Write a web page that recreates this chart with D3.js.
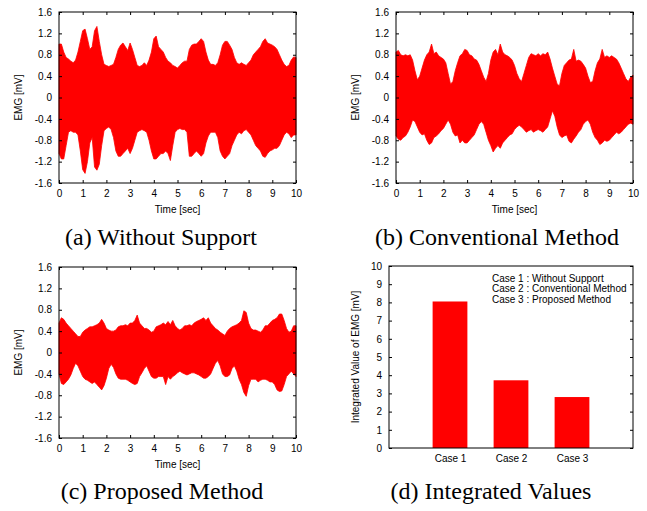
<!DOCTYPE html>
<html>
<head>
<meta charset="utf-8">
<script src="https://cdn.jsdelivr.net/npm/d3@7"></script>
<style>
  body { margin: 0; background: #fff; }
  svg { display: block; }
  .tick text { font-family: "Liberation Sans", Arial, Helvetica, sans-serif; font-size: 10px; fill: #000; }
  .tick line { stroke: #000; }
  .label { font-family: "Liberation Sans", Arial, Helvetica, sans-serif; font-size: 10px; fill: #000; }
  .caption { font-family: "Liberation Serif", "Times New Roman", serif; font-size: 24px; fill: #000; }
</style>
</head>
<body>
<script>
const timeTicks = [0, 1, 2, 3, 4, 5, 6, 7, 8, 9, 10];
const emgTicks = [-1.6, -1.2, -0.8, -0.4, 0, 0.4, 0.8, 1.2, 1.6];

// sampling grid used when reading the envelopes off the figure
const sampleTimes = [
  0, 0.1, 0.2, 0.3, 0.4, 0.5, 0.6, 0.7, 0.8, 0.9,
  1, 1.1, 1.2, 1.3, 1.4, 1.5, 1.6, 1.7, 1.8, 1.9,
  2, 2.1, 2.2, 2.3, 2.4, 2.5, 2.6, 2.7, 2.8, 2.9,
  3, 3.1, 3.2, 3.3, 3.4, 3.5, 3.6, 3.7, 3.8, 3.9,
  4, 4.1, 4.2, 4.3, 4.4, 4.5, 4.6, 4.7, 4.8, 4.9,
  5, 5.1, 5.2, 5.3, 5.4, 5.5, 5.6, 5.7, 5.8, 5.9,
  6, 6.1, 6.2, 6.3, 6.4, 6.5, 6.6, 6.7, 6.8, 6.9,
  7, 7.1, 7.2, 7.3, 7.4, 7.5, 7.6, 7.7, 7.8, 7.9,
  8, 8.1, 8.2, 8.3, 8.4, 8.5, 8.6, 8.7, 8.8, 8.9,
  9, 9.1, 9.2, 9.3, 9.4, 9.5, 9.6, 9.7, 9.8, 9.9,
  10
];

// (a) without support: upper / lower envelope [mV]
const upperA = [
  1.0, 1.0, 0.85, 0.75, 0.72, 0.68, 0.65, 0.7, 0.85, 1.05,
  1.25, 1.28, 1.1, 0.9, 0.95, 1.25, 1.33, 1.05, 0.8, 0.62,
  0.6, 0.58, 0.6, 0.62, 0.75, 0.9, 0.98, 1.02, 0.95, 0.88,
  1.02, 0.9, 0.75, 0.6, 0.58, 0.6, 0.65, 0.6, 0.7, 0.85,
  1.1, 1.15, 0.95, 0.9, 0.85, 0.75, 0.68, 0.65, 0.6, 0.58,
  0.55, 0.6, 0.65, 0.68, 0.68, 0.9, 0.98, 1.0, 1.0, 1.05,
  1.1, 1.05, 0.85, 0.7, 0.62, 0.62, 0.6, 0.65, 0.8, 0.98,
  1.05, 1.05, 0.98, 0.9, 0.75, 0.65, 0.62, 0.65, 0.62, 0.6,
  0.65, 0.7, 0.8, 0.85, 0.9, 0.95, 1.05, 1.1, 1.02, 1.0,
  0.98, 0.95, 0.9, 0.8, 0.7, 0.62, 0.58, 0.6, 0.7, 0.76,
  0.75
];
const lowerA = [
  -1.05, -1.15, -1.15, -0.9, -0.65, -0.62, -0.65, -0.65, -0.7, -1.0,
  -1.35, -1.42, -1.2, -0.85, -0.75, -1.3, -1.36, -1.25, -0.9, -0.62,
  -0.58, -0.55, -0.6, -0.75, -1.0, -1.1, -1.1, -1.05, -1.0, -0.95,
  -1.05, -0.95, -0.8, -0.65, -0.62, -0.6, -0.62, -0.65, -0.8, -1.0,
  -1.15, -1.15, -1.1, -1.05, -1.05, -1.0, -1.05, -1.18, -0.9, -0.65,
  -0.6, -0.58, -0.6, -0.6, -0.65, -1.1, -1.1, -1.05, -1.0, -1.05,
  -1.1, -1.05, -0.85, -0.72, -0.65, -0.65, -0.65, -0.75, -1.0, -1.1,
  -1.15, -1.1, -1.05, -0.9, -0.8, -0.7, -0.65, -0.68, -0.62, -0.6,
  -0.65, -0.7, -0.8, -0.9, -0.95, -1.0, -1.1, -1.12, -1.05, -1.0,
  -0.98, -0.95, -0.95, -0.9, -0.8, -0.7, -0.65, -0.68, -0.75, -0.7,
  -0.7
];

// (b) conventional method
const upperB = [
  0.85, 0.88, 0.8, 0.78, 0.8, 0.78, 0.8, 0.7, 0.5, 0.33,
  0.4, 0.55, 0.7, 0.8, 0.85, 1.0, 0.82, 0.85, 0.78, 0.75,
  0.72, 0.65, 0.45, 0.25, 0.3, 0.5, 0.65, 0.78, 0.82, 0.9,
  0.88, 0.8, 0.78, 0.72, 0.7, 0.62, 0.5, 0.38, 0.3, 0.45,
  0.7, 0.85, 0.9, 0.8, 1.0, 0.85, 0.8, 0.78, 0.75, 0.7,
  0.6, 0.45, 0.35, 0.3, 0.45, 0.6, 0.75, 0.82, 0.8, 0.78,
  0.82, 0.78, 0.82, 0.8, 0.85, 0.72, 0.55, 0.4, 0.25, 0.22,
  0.45, 0.6, 0.65, 0.7, 0.72, 0.9, 0.68, 0.7, 0.68, 0.62,
  0.55, 0.4, 0.28, 0.3, 0.5, 0.65, 0.72, 0.9, 0.75, 0.78,
  0.75, 0.78, 0.75, 0.72, 0.65, 0.55, 0.45, 0.35, 0.3, 0.38,
  0.42
];
const lowerB = [
  -0.72, -0.78, -0.8, -0.75, -0.72, -0.65, -0.55, -0.42, -0.45, -0.55,
  -0.65, -0.7, -0.68, -0.8, -0.88, -0.85, -0.75, -0.72, -0.68, -0.62,
  -0.58, -0.5, -0.42, -0.5, -0.65, -0.72, -0.7, -0.85, -0.8, -0.85,
  -0.85, -0.8, -0.75, -0.7, -0.6, -0.5, -0.45, -0.5, -0.65, -0.8,
  -0.9, -1.02, -0.95, -0.9, -0.95, -0.85, -0.8, -0.75, -0.7, -0.68,
  -0.6, -0.55, -0.52, -0.55, -0.6, -0.65, -0.62, -0.6, -0.65, -0.62,
  -0.6, -0.62, -0.65, -0.6, -0.55, -0.4, -0.25, -0.35, -0.55, -0.7,
  -0.75, -0.72, -0.7, -0.82, -0.85, -0.78, -0.72, -0.65, -0.6, -0.5,
  -0.45, -0.42, -0.5, -0.65, -0.75, -0.8, -0.88, -0.85, -0.8, -0.82,
  -0.8, -0.75, -0.7, -0.65, -0.68, -0.65, -0.6, -0.55, -0.5, -0.48,
  -0.5
];

// (c) proposed method
const upperC = [
  0.55, 0.65, 0.62, 0.55, 0.5, 0.45, 0.4, 0.35, 0.3, 0.3,
  0.38, 0.42, 0.45, 0.48, 0.48, 0.5, 0.52, 0.55, 0.62, 0.55,
  0.45, 0.42, 0.4, 0.4, 0.42, 0.48, 0.5, 0.5, 0.52, 0.5,
  0.55, 0.55, 0.6, 0.7, 0.55, 0.5, 0.45, 0.45, 0.42, 0.38,
  0.4, 0.48, 0.5, 0.52, 0.55, 0.52, 0.58, 0.52, 0.6, 0.5,
  0.45, 0.42, 0.45, 0.5, 0.5, 0.52, 0.5, 0.55, 0.58, 0.6,
  0.62, 0.65, 0.6, 0.65, 0.55, 0.5, 0.45, 0.42, 0.38, 0.35,
  0.32, 0.4, 0.45, 0.48, 0.5, 0.52, 0.55, 0.6, 0.78, 0.75,
  0.55, 0.45, 0.42, 0.42, 0.4, 0.38, 0.42, 0.5, 0.5, 0.55,
  0.6, 0.62, 0.65, 0.72, 0.72, 0.6, 0.45, 0.38, 0.4, 0.5,
  0.5
];
const lowerC = [
  -0.4, -0.58, -0.6, -0.55, -0.5, -0.42, -0.3, -0.2, -0.25, -0.35,
  -0.45, -0.5, -0.52, -0.55, -0.58, -0.55, -0.6, -0.65, -0.7, -0.62,
  -0.48, -0.3, -0.22, -0.28, -0.4, -0.48, -0.5, -0.5, -0.5, -0.52,
  -0.55, -0.58, -0.6, -0.58, -0.45, -0.38, -0.3, -0.25, -0.35, -0.45,
  -0.48, -0.48, -0.45, -0.45, -0.45, -0.6, -0.45, -0.5, -0.45, -0.42,
  -0.38, -0.35, -0.38, -0.4, -0.42, -0.4, -0.38, -0.38, -0.4, -0.42,
  -0.45, -0.48, -0.48, -0.45, -0.4, -0.3, -0.2, -0.15, -0.25, -0.4,
  -0.45, -0.45, -0.42, -0.3, -0.25, -0.35, -0.5, -0.6, -0.75, -0.82,
  -0.62, -0.5, -0.5, -0.5, -0.55, -0.52, -0.5, -0.5, -0.52, -0.55,
  -0.55, -0.6, -0.7, -0.73, -0.72, -0.6, -0.45, -0.4, -0.35, -0.4,
  -0.45
];

// (d) integrated values
const cases = ["Case 1", "Case 2", "Case 3"];
const integratedValues = [8.05, 3.72, 2.8];
const integratedTicks = [0, 1, 2, 3, 4, 5, 6, 7, 8, 9, 10];
const caseNotes = ["Case 1 : Without Support", "Case 2 : Conventional Method", "Case 3 : Proposed Method"];

const captions = ["(a) Without Support", "(b) Conventional Method", "(c) Proposed Method", "(d) Integrated Values"];

const width = 647, height = 511;
const red = "#ff0000";

var svg = d3.select("body").append("svg")
  .attr("width", width)
  .attr("height", height);

var numFmt = (d) => String(d);

function frame(g, x0, y0, x1, y1) {
  g.append("rect")
    .attr("x", x0).attr("y", y0)
    .attr("width", x1 - x0).attr("height", y1 - y0)
    .attr("fill", "none")
    .attr("stroke", "#000")
    .attr("stroke-width", 1);
}

function signalPanel(box, upper, lower, caption) {
  var g = svg.append("g");
  var x = d3.scaleLinear().domain([0, 10]).range([box.left, box.right]);
  var y = d3.scaleLinear().domain([-1.6, 1.6]).range([box.bottom, box.top]);

  var area = d3.area()
    .x((d, i) => x(sampleTimes[i]))
    .y0((d, i) => y(lower[i]))
    .y1((d, i) => y(upper[i]));

  g.append("path")
    .datum(upper)
    .attr("d", area)
    .attr("fill", red)
    .attr("stroke", red)
    .attr("stroke-width", 0.8);

  g.append("g")
    .attr("transform", `translate(0,${box.bottom})`)
    .call(d3.axisBottom(x).tickValues(timeTicks).tickFormat(numFmt)
      .tickSizeInner(-3).tickSizeOuter(0).tickPadding(7))
    .call((s) => s.select(".domain").remove());
  g.append("g")
    .attr("transform", `translate(0,${box.top})`)
    .call(d3.axisTop(x).tickValues(timeTicks).tickFormat("")
      .tickSizeInner(-3).tickSizeOuter(0))
    .call((s) => s.select(".domain").remove());
  g.append("g")
    .attr("transform", `translate(${box.left},0)`)
    .call(d3.axisLeft(y).tickValues(emgTicks).tickFormat(numFmt)
      .tickSizeInner(-3).tickSizeOuter(0).tickPadding(7))
    .call((s) => s.select(".domain").remove());
  g.append("g")
    .attr("transform", `translate(${box.right},0)`)
    .call(d3.axisRight(y).tickValues(emgTicks).tickFormat("")
      .tickSizeInner(-3).tickSizeOuter(0))
    .call((s) => s.select(".domain").remove());

  frame(g, box.left, box.top, box.right, box.bottom);

  g.append("text")
    .attr("class", "label")
    .attr("x", (box.left + box.right) / 2)
    .attr("y", box.bottom + 29.5)
    .attr("text-anchor", "middle")
    .text("Time [sec]");

  g.append("text")
    .attr("class", "label")
    .attr("transform", `translate(${box.left - 41},${(box.top + box.bottom) / 2}) rotate(-90)`)
    .attr("text-anchor", "middle")
    .attr("dy", "0.35em")
    .text("EMG [mV]");

  g.append("text")
    .attr("class", "caption")
    .attr("x", box.capX)
    .attr("y", box.capY)
    .attr("text-anchor", "middle")
    .text(caption);
}

signalPanel({ left: 59, right: 296, top: 12, bottom: 183, capX: 161, capY: 245 }, upperA, lowerA, captions[0]);
signalPanel({ left: 396, right: 633, top: 12, bottom: 183, capX: 497, capY: 245 }, upperB, lowerB, captions[1]);
signalPanel({ left: 59, right: 296, top: 267, bottom: 438, capX: 162, capY: 499 }, upperC, lowerC, captions[2]);

// (d) bar chart
(function () {
  var box = { left: 389, right: 633, top: 266, bottom: 448 };
  var g = svg.append("g");
  var x = d3.scaleLinear().domain([0, 4]).range([box.left, box.right]);
  var y = d3.scaleLinear().domain([0, 10]).range([box.bottom, box.top]);
  var barW = 0.57;

  g.selectAll(".bar")
    .data(integratedValues)
    .enter()
    .append("rect")
    .attr("class", "bar")
    .attr("x", (d, i) => x(i + 1 - barW / 2))
    .attr("y", (d) => y(d))
    .attr("width", x(barW) - x(0))
    .attr("height", (d) => y(0) - y(d))
    .attr("fill", red);

  g.append("g")
    .attr("transform", `translate(${box.left},0)`)
    .call(d3.axisLeft(y).tickValues(integratedTicks).tickFormat(numFmt)
      .tickSizeInner(-3).tickSizeOuter(0).tickPadding(7))
    .call((s) => s.select(".domain").remove());
  g.append("g")
    .attr("transform", `translate(${box.right},0)`)
    .call(d3.axisRight(y).tickValues(integratedTicks).tickFormat("")
      .tickSizeInner(-3).tickSizeOuter(0))
    .call((s) => s.select(".domain").remove());
  g.append("g")
    .attr("transform", `translate(0,${box.bottom})`)
    .call(d3.axisBottom(x).tickValues([1, 2, 3]).tickFormat((d) => cases[d - 1])
      .tickSizeInner(0).tickSizeOuter(0).tickPadding(7))
    .call((s) => s.select(".domain").remove());

  frame(g, box.left, box.top, box.right, box.bottom);

  g.selectAll(".note")
    .data(caseNotes)
    .enter()
    .append("text")
    .attr("class", "label note")
    .attr("x", 492)
    .attr("y", (d, i) => 281.5 + i * 10.7)
    .text((d) => d);

  g.append("text")
    .attr("class", "label")
    .attr("transform", `translate(355,${(box.top + box.bottom) / 2}) rotate(-90)`)
    .attr("text-anchor", "middle")
    .attr("dy", "0.35em")
    .text("Integrated Value of EMG [mV]");

  g.append("text")
    .attr("class", "caption")
    .attr("x", 491)
    .attr("y", 499)
    .attr("text-anchor", "middle")
    .text(captions[3]);
})();
</script>
</body>
</html>
